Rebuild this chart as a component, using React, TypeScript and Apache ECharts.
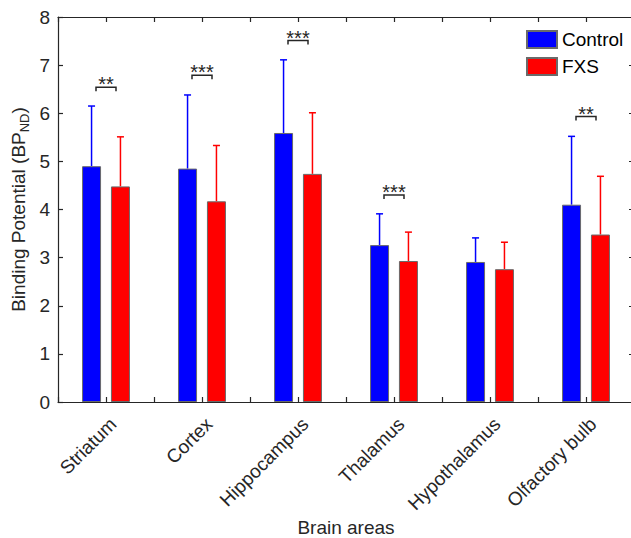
import React, { useEffect, useRef } from "react";
import * as echarts from "echarts";

const categories = ["Striatum", "Cortex", "Hippocampus", "Thalamus", "Hypothalamus", "Olfactory bulb"];
const controlMean = [4.9, 4.85, 5.59, 3.26, 2.91, 4.1];
const controlSD = [1.25, 1.53, 1.52, 0.65, 0.5, 1.42];
const fxsMean = [4.48, 4.17, 4.74, 2.93, 2.76, 3.48];
const fxsSD = [1.03, 1.16, 1.27, 0.6, 0.56, 1.21];
const sigLabels = ["**", "***", "***", "***", "", "**"];
const sigLevel = [6.54, 6.79, 7.51, 4.3, null, 5.93];
const yTicks = [0, 8, 1];

const FONT = "Liberation Sans, Arial, Helvetica, sans-serif";
const AXIS = "#262626";
const BLUE = "#0000ff";
const RED = "#ff0000";
const EDGE = "#6a6a6a";

function errorSeries(name: string, means: number[], sds: number[], color: string, offset: number) {
  return {
    type: "custom",
    name,
    xAxisIndex: 0,
    yAxisIndex: 0,
    z: 1,
    data: means.map((m, i) => [i + 1, m, m + sds[i]]),
    renderItem: (params: any, api: any) => {
      const p0 = api.coord([api.value(0), api.value(1)]);
      const p1 = api.coord([api.value(0), api.value(2)]);
      const x = p0[0] + offset;
      return {
        type: "group",
        children: [
          {
            type: "line",
            shape: { x1: x, y1: p0[1], x2: x, y2: p1[1] },
            style: { stroke: color, lineWidth: 1.5 },
          },
          {
            type: "line",
            shape: { x1: x - 3.5, y1: p1[1], x2: x + 3.5, y2: p1[1] },
            style: { stroke: color, lineWidth: 1.5 },
          },
        ],
      };
    },
  };
}

export default function App() {
  const ref = useRef<HTMLDivElement>(null);
  useEffect(() => {
    if (!ref.current) return;
    const chart = echarts.init(ref.current, undefined, { renderer: "svg" });
    const sigData: any[] = [];
    sigLevel.forEach((lv, i) => {
      if (lv !== null) sigData.push([i + 1, lv, i]);
    });
    const xCommon = {
      type: "value",
      min: 0.5,
      max: 6.5,
      interval: 0.5,
      splitLine: { show: false },
      axisLine: { show: true, onZero: false, lineStyle: { color: AXIS, width: 1.2 } },
      axisTick: { show: true, inside: true, length: 5, lineStyle: { color: AXIS, width: 1.2 } },
    };
    const yCommon = {
      type: "value",
      min: yTicks[0],
      max: yTicks[1],
      interval: yTicks[2],
      splitLine: { show: false },
      axisLine: { show: true, onZero: false, lineStyle: { color: AXIS, width: 1.2 } },
      axisTick: { show: true, inside: true, length: 5, lineStyle: { color: AXIS, width: 1.2 } },
    };
    chart.setOption({
      animation: false,
      backgroundColor: "#ffffff",
      textStyle: { fontFamily: FONT },
      grid: { left: 58, right: -3, top: 17, bottom: 136, containLabel: false, outerBoundsMode: "none" },
      legend: {
        data: ["Control", "FXS"],
        orient: "vertical",
        left: 526,
        top: 30,
        padding: 0,
        itemWidth: 30,
        itemHeight: 17,
        itemGap: 8,
        icon: "rect",
        selectedMode: false,
        textStyle: { fontSize: 19, color: "#000", fontFamily: FONT },
      },
      xAxis: [
        {
          ...xCommon,
          position: "bottom",
          name: "Brain areas",
          nameLocation: "middle",
          nameGap: 116,
          nameMoveOverlap: false,
          nameTextStyle: { fontSize: 19, color: AXIS, fontFamily: FONT },
          axisLabel: {
            show: true,
            rotate: 45,
            margin: 2,
            verticalAlign: "top",
            fontSize: 19,
            color: AXIS,
            fontFamily: FONT,
            rich: {
              a: { fontSize: 19, lineHeight: 34, color: AXIS, fontFamily: FONT },
              g: { width: 7, lineHeight: 34 },
            },
            formatter: (v: number) =>
              Math.abs(v - Math.round(v)) < 1e-6 && v >= 1 && v <= categories.length
                ? "{a|" + categories[Math.round(v) - 1] + "}{g|}"
                : "",
          },
        },
        { ...xCommon, position: "top", axisLabel: { show: false } },
      ],
      yAxis: [
        {
          ...yCommon,
          position: "left",
          name: "{a|Binding Potential (BP}{b|ND}{a|)}",
          nameLocation: "middle",
          nameGap: 30,
          nameRotate: 90,
          nameMoveOverlap: false,
          nameTextStyle: {
            fontSize: 19,
            color: AXIS,
            fontFamily: FONT,
            rich: {
              a: { fontSize: 19, color: AXIS, fontFamily: FONT, lineHeight: 19, verticalAlign: "top" },
              b: {
                fontSize: 13,
                color: AXIS,
                fontFamily: FONT,
                lineHeight: 13,
                verticalAlign: "top",
                padding: [9, 0, 0, 0],
              },
            },
          },
          axisLabel: { show: true, margin: 8, fontSize: 19, color: AXIS, fontFamily: FONT },
        },
        { ...yCommon, position: "right", axisLabel: { show: false } },
      ],
      series: [
        errorSeries("Control SD", controlMean, controlSD, BLUE, -14.45),
        errorSeries("FXS SD", fxsMean, fxsSD, RED, 14.45),
        {
          type: "bar",
          name: "Control",
          xAxisIndex: 0,
          yAxisIndex: 0,
          z: 2,
          barWidth: 19,
          barGap: "52%",
          itemStyle: { color: BLUE, borderColor: EDGE, borderWidth: 1 },
          data: controlMean.map((v, i) => [i + 1, v]),
        },
        {
          type: "bar",
          name: "FXS",
          xAxisIndex: 0,
          yAxisIndex: 0,
          z: 2,
          barWidth: 19,
          barGap: "52%",
          itemStyle: { color: RED, borderColor: EDGE, borderWidth: 1 },
          data: fxsMean.map((v, i) => [i + 1, v]),
        },
        {
          type: "custom",
          name: "significance",
          xAxisIndex: 0,
          yAxisIndex: 0,
          z: 3,
          data: sigData,
          renderItem: (params: any, api: any) => {
            const p = api.coord([api.value(0), api.value(1)]);
            const idx = api.value(2);
            const cx = p[0];
            const y = p[1];
            return {
              type: "group",
              children: [
                {
                  type: "polyline",
                  shape: {
                    points: [
                      [cx - 10, y + 4],
                      [cx - 10, y],
                      [cx + 10, y],
                      [cx + 10, y + 4],
                    ],
                  },
                  style: { stroke: AXIS, lineWidth: 1.5, fill: "none" },
                },
                {
                  type: "text",
                  x: cx,
                  y: y - 3,
                  style: {
                    text: sigLabels[idx],
                    fontSize: 20,
                    fontFamily: FONT,
                    fill: AXIS,
                    align: "center",
                    verticalAlign: "middle",
                  },
                },
              ],
            };
          },
        },
      ],
    });
    return () => chart.dispose();
  }, []);
  return (
    <div
      ref={ref}
      style={{ position: "fixed", left: 0, top: 0, width: 631, height: 538, background: "#fff" }}
    />
  );
}
